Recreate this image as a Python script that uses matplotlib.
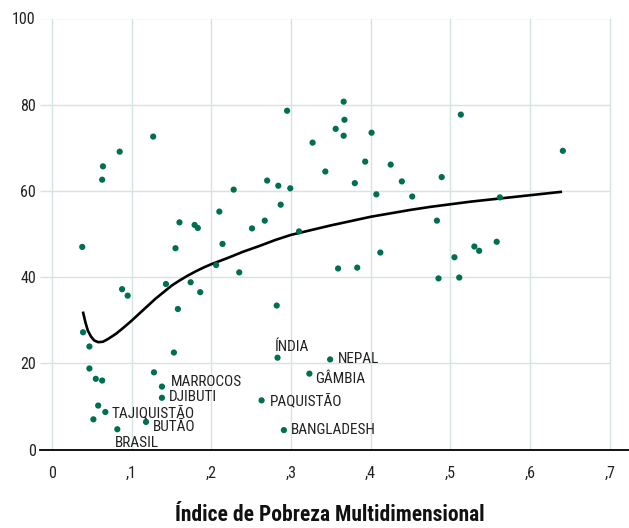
import os
import matplotlib.pyplot as plt
from matplotlib import font_manager

# unlabelled countries (poverty index, y value)
pts_x = [0.064, 0.063, 0.085, 0.127, 0.228, 0.270, 0.284, 0.295, 0.299, 0.327,
         0.343, 0.356, 0.366, 0.367, 0.366, 0.380, 0.393, 0.401, 0.407, 0.425,
         0.439, 0.452, 0.489, 0.513, 0.562, 0.641,
         0.038, 0.210, 0.160, 0.179, 0.183, 0.267, 0.251, 0.287, 0.310, 0.483,
         0.214, 0.155, 0.530, 0.536, 0.558, 0.412, 0.505, 0.206, 0.235, 0.359,
         0.383, 0.485, 0.511, 0.088, 0.095, 0.143, 0.174, 0.186, 0.158, 0.282,
         0.039, 0.047,
         0.153, 0.047, 0.128, 0.055, 0.063, 0.058, 0.052]
pts_y = [65.7, 62.6, 69.1, 72.6, 60.3, 62.4, 61.2, 78.6, 60.6, 71.2,
         64.5, 74.4, 80.7, 76.5, 72.8, 61.8, 66.8, 73.5, 59.2, 66.1,
         62.2, 58.7, 63.2, 77.7, 58.5, 69.3,
         47.0, 55.2, 52.7, 52.1, 51.4, 53.1, 51.3, 56.8, 50.6, 53.1,
         47.7, 46.7, 47.1, 46.1, 48.2, 45.7, 44.6, 42.8, 41.1, 42.0,
         42.2, 39.7, 39.9, 37.2, 35.7, 38.4, 38.8, 36.5, 32.6, 33.4,
         27.2, 23.9,
         22.5, 18.8, 17.9, 16.4, 16.0, 10.2, 7.0]

# labelled countries
paises = ['ÍNDIA', 'NEPAL', 'GÂMBIA', 'MARROCOS', 'DJIBUTI', 'PAQUISTÃO',
          'TAJIQUISTÃO', 'BUTÃO', 'BRASIL', 'BANGLADESH']
paises_x = [0.283, 0.349, 0.323, 0.138, 0.138, 0.263, 0.067, 0.118, 0.082, 0.291]
paises_y = [21.3, 20.9, 17.6, 14.6, 12.0, 11.4, 8.7, 6.4, 4.7, 4.5]

# trend line
curva_x = [0.0388, 0.042, 0.045, 0.049, 0.053, 0.058, 0.064, 0.070, 0.080, 0.090,
           0.100, 0.110, 0.120, 0.130, 0.140, 0.150, 0.160, 0.170, 0.180, 0.190,
           0.200, 0.220, 0.240, 0.260, 0.280, 0.300, 0.325, 0.350, 0.375, 0.400,
           0.425, 0.450, 0.475, 0.500, 0.525, 0.550, 0.575, 0.600, 0.620, 0.640]
curva_y = [32.0, 29.5, 27.6, 26.2, 25.3, 24.9, 25.0, 25.6, 26.8, 28.3,
           29.9, 31.6, 33.3, 35.0, 36.5, 38.0, 39.2, 40.3, 41.3, 42.2,
           43.0, 44.4, 45.9, 47.2, 48.6, 49.8, 50.9, 52.0, 53.0, 54.0,
           54.8, 55.6, 56.3, 56.9, 57.5, 58.0, 58.5, 59.0, 59.4, 59.8]

x_ticks = [0, 0.1, 0.2, 0.3, 0.4, 0.5, 0.6, 0.7]
x_tick_labels = ['0', ',1', ',2', ',3', ',4', ',5', ',6', ',7']
y_ticks = [0, 20, 40, 60, 80, 100]

VERDE = '#006f51'
GRADE = '#d3e5df'


def fonte_estreita(negrito):
    # look for a narrow/condensed face among the installed fonts
    prefer = ['liberationsansnarrow', 'robotocondensed', 'dejavusanscondensed',
              'opensanscondensed', 'notosanscondensed', 'latocondensed']
    for p in prefer:
        for f in font_manager.fontManager.ttflist:
            nome = os.path.basename(f.fname).lower().replace('-', '').replace('_', '')
            if p not in nome or 'italic' in nome or 'oblique' in nome:
                continue
            if ('bold' in nome) == negrito:
                return f.fname
    return None


f_reg = fonte_estreita(False)
f_bold = fonte_estreita(True)
if f_reg:
    fp = font_manager.FontProperties(fname=f_reg, size=11.5)
    fp_rot = font_manager.FontProperties(fname=f_reg, size=11)
else:
    fp = font_manager.FontProperties(family='Roboto', size=10)
    fp_rot = fp
if f_bold:
    fp_titulo = font_manager.FontProperties(fname=f_bold, size=15.5)
else:
    fp_titulo = font_manager.FontProperties(family='Roboto', weight='bold', size=13)

fig = plt.figure(figsize=(6.29, 5.28), dpi=100)
ax = fig.add_axes([40 / 629, 1 - 449.5 / 528, 589 / 629, 431 / 528])
ax.set_xlim(-0.015, 0.724)
ax.set_ylim(0, 100)

# grid stops at ,7 on the right
for xv in x_ticks:
    ax.axvline(xv, color=GRADE, lw=1.0, zorder=0)
for yv in y_ticks[1:]:
    ax.hlines(yv, -0.015, 0.7, color=GRADE, lw=1.0, zorder=0)

ax.plot(curva_x, curva_y, color='black', lw=1.9, zorder=2, solid_capstyle='butt')
ax.scatter(pts_x, pts_y, s=20, color=VERDE, edgecolors='none', zorder=3)
ax.scatter(paises_x, paises_y, s=20, color=VERDE, edgecolors='none', zorder=3)

# label offsets in points
desloc = {
    'ÍNDIA': (-2, 8), 'NEPAL': (5.5, 0), 'GÂMBIA': (4.3, -4),
    'MARROCOS': (6.5, 3.6), 'DJIBUTI': (5, 0.6), 'PAQUISTÃO': (6.3, -0.5),
    'TAJIQUISTÃO': (4.5, -0.4), 'BUTÃO': (4.8, -3.8), 'BRASIL': (-1.4, -9.6),
    'BANGLADESH': (5, 0),
}
for nome, xv, yv in zip(paises, paises_x, paises_y):
    ax.annotate(nome, (xv, yv), xytext=desloc[nome], textcoords='offset points',
                ha='left', va='center', fontproperties=fp_rot, color='#222222', zorder=4)

for s in ['top', 'right', 'left']:
    ax.spines[s].set_visible(False)
ax.spines['bottom'].set_color('black')
ax.spines['bottom'].set_linewidth(1.3)

ax.set_xticks(x_ticks)
ax.set_xticklabels(x_tick_labels)
ax.set_yticks(y_ticks)
ax.tick_params(axis='x', length=0, pad=12, labelcolor='#222222')
ax.tick_params(axis='y', length=0, pad=3, labelcolor='#222222')
for lbl in ax.get_xticklabels() + ax.get_yticklabels():
    lbl.set_fontproperties(fp)

fig.text(330 / 629, 13 / 528, 'Índice de Pobreza Multidimensional',
         ha='center', va='center', fontproperties=fp_titulo, color='#111111')

fig.savefig('out.png', dpi=100)
